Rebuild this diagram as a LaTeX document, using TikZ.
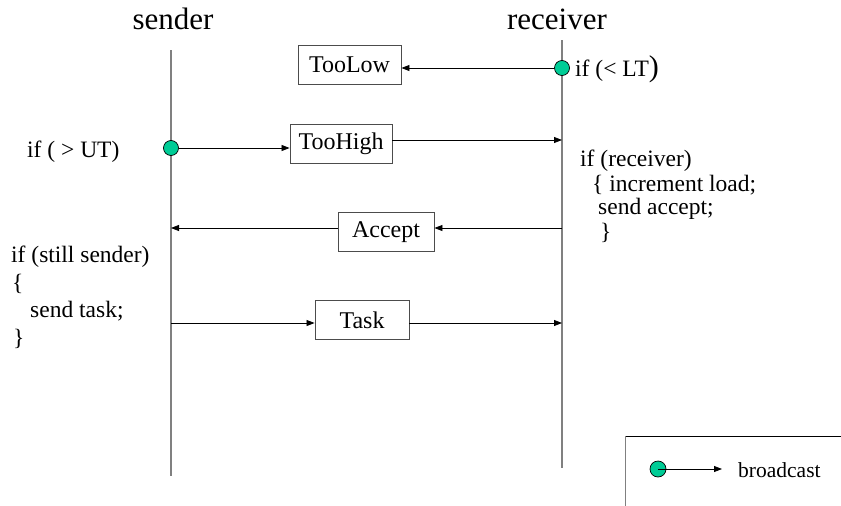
\documentclass[tikz,border=0pt]{standalone}
\usepackage{fontspec}
\setmainfont{Liberation Serif}
\usetikzlibrary{arrows.meta}
\definecolor{lifegray}{RGB}{128,128,128}
\definecolor{bcast}{RGB}{0,204,150}
\tikzset{
  lifeline/.style={draw=lifegray, line width=1.6pt},
  msgbox/.style={draw=black!70, line width=0.9pt, minimum height=39pt, inner sep=0pt, font=\fontsize{24}{26}\selectfont},
  msg/.style={line width=0.8pt, -{Triangle[length=8pt,width=6pt]}},
  dot/.style={circle, draw=black, line width=0.7pt, fill=bcast, minimum size=15pt, inner sep=0pt},
  title/.style={font=\fontsize{31}{34}\selectfont},
  code/.style={font=\fontsize{23.5}{26}\selectfont, anchor=west, inner sep=0pt},
}
\begin{document}
\begin{tikzpicture}[x=1pt,y=-1pt]
\useasboundingbox (0,0) rectangle (841,506);

% lifelines
\coordinate (sTop) at (171,50);
\coordinate (sBot) at (171,476);
\coordinate (rTop) at (562,40);
\coordinate (rBot) at (562,468);
\draw[lifeline] (sTop) -- (sBot);
\draw[lifeline] (rTop) -- (rBot);

\node[title] (sendT) at (173,19) {sender};
\node[title] (recvT) at (557,19) {receiver};

% TooLow
\node[msgbox, minimum width=103pt] (low) at (349.5,64.5) {TooLow};
\node[dot] (lowDot) at (562,68) {};
\coordinate (lowEnd) at (low.east |- lowDot);
\draw[msg] (lowDot) -- (lowEnd);
\node[code] (lowTxt) at (575,69) {if (< LT\fontsize{30}{30}\selectfont)};

% TooHigh
\node[msgbox, minimum width=102pt] (high) at (341,143.5) {TooHigh};
\node[dot] (highDot) at (171,148) {};
\coordinate (highIn) at (high.west |- highDot);
\draw[msg] (highDot) -- (highIn);
\coordinate (highOut) at (high.east |- 0,140);
\coordinate (highR) at (562,140);
\draw[msg] (highOut) -- (highR);
\node[code] (utTxt) at (27,152) {if ( > UT)};

% Accept
\node[msgbox, minimum width=96pt] (acc) at (386,232) {Accept};
\coordinate (accR) at (562,228);
\coordinate (accL) at (171,228);
\draw[msg] (accR) -- (acc.east |- accR);
\draw[msg] (acc.west |- accL) -- (accL);

% Task
\node[msgbox, minimum width=94pt] (task) at (362,320) {Task};
\coordinate (taskL) at (171,323);
\coordinate (taskR) at (562,323);
\draw[msg] (taskL) -- (task.west |- taskL);
\draw[msg] (task.east |- taskR) -- (taskR);

% receiver code
\node[code] (r1) at (580,161) {if (receiver)};
\node[code] (r2) at (592,185) {\{ increment load;};
\node[code] (r3) at (598,209) {send accept;};
\node[code] (r4) at (600,233) {\}};

% sender code
\node[code] (s1) at (11,257) {if (still sender)};
\node[code] (s2) at (12,284) {\{};
\node[code] (s3) at (30,311) {send task;};
\node[code] (s4) at (13,339) {\}};

% legend
\coordinate (legTR) at (841,436);
\coordinate (legTL) at (625,436);
\coordinate (legBL) at (625,506);
\draw[line width=0.8pt] (legTR) -- (legTL);
\draw[lifegray, line width=1pt] (legTL) -- (legBL);
\node[dot, minimum size=16pt] (legDot) at (658,469) {};
\coordinate (legEnd) at (722,469);
\draw[msg] (legDot.center) -- (legEnd);
\node[anchor=west, inner sep=0pt, font=\fontsize{21.5}{24}\selectfont] (legTxt) at (738,470) {broadcast};
\end{tikzpicture}
\end{document}
